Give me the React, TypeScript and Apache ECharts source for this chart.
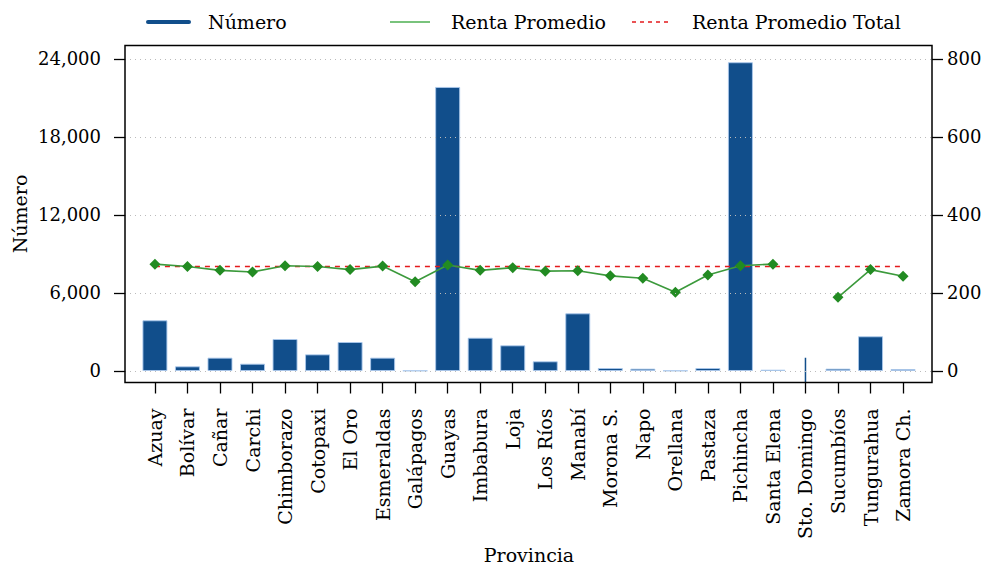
import React, { useEffect, useRef } from "react";
import * as echarts from "echarts";

const provincias = [
  "Azuay", "Bolívar", "Cañar", "Carchi", "Chimborazo", "Cotopaxi", "El Oro", "Esmeraldas",
  "Galápagos", "Guayas", "Imbabura", "Loja", "Los Ríos", "Manabí", "Morona S.", "Napo",
  "Orellana", "Pastaza", "Pichincha", "Santa Elena", "Sto. Domingo", "Sucumbíos", "Tungurahua", "Zamora Ch.",
];
const numero = [
  3900, 360, 1025, 560, 2460, 1280, 2230, 1025,
  30, 21850, 2560, 1975, 745, 4435, 230, 180,
  30, 230, 23750, 100, null, 180, 2670, 150,
];
const renta = [
  274, 268, 258, 254, 270, 268, 260, 269,
  229, 272, 258, 265, 256, 257, 244, 238,
  202, 246, 270, 274, null, 189, 260, 243,
];
const rentaTotal = 268;
const stoDomingoIndex = 20;
const stoDomingoRange = [1020, -2000];
const leftTicks = [0, 6000, 12000, 18000, 24000];
const rightTicks = [0, 200, 400, 600, 800];

const FONT = "DejaVu Serif";
const BLUE = "#114e8b";

export default function App() {
  const ref = useRef<HTMLDivElement>(null);
  useEffect(() => {
    document.body.style.margin = "0";
    const chart = echarts.init(ref.current!, null, { renderer: "svg" });
    const idx = provincias.map((_, i) => i);
    chart.setOption({
      animation: false,
      backgroundColor: "#ffffff",
      textStyle: { fontFamily: FONT },
      grid: { left: 125, right: 65, top: 45.5, bottom: 183.5, containLabel: false },
      xAxis: {
        type: "value",
        min: -0.92,
        max: 23.89,
        axisLine: { show: false, onZero: false },
        splitLine: { show: false },
        axisTick: { show: true, customValues: idx, length: 11, lineStyle: { color: "#000", width: 1.3 } },
        axisLabel: {
          customValues: idx,
          rotate: 90,
          margin: 26,
          fontFamily: FONT,
          fontSize: 19,
          color: "#000",
          formatter: (v: number) => provincias[Math.round(v)],
        },
      },
      yAxis: [
        {
          type: "value",
          position: "left",
          min: -885,
          max: 25038,
          axisLine: { show: false, onZero: false },
          splitLine: { show: false },
          axisTick: { show: true, customValues: leftTicks, length: 11, lineStyle: { color: "#000", width: 1.3 } },
          axisLabel: {
            customValues: leftTicks,
            margin: 24,
            fontFamily: FONT,
            fontSize: 18,
            color: "#000",
            formatter: (v: number) => v.toLocaleString("en-US"),
          },
        },
        {
          type: "value",
          position: "right",
          min: -29.5,
          max: 834.6,
          axisLine: { show: false, onZero: false },
          splitLine: { show: false },
          axisTick: { show: true, customValues: rightTicks, length: 11, lineStyle: { color: "#000", width: 1.3 } },
          axisLabel: {
            customValues: rightTicks,
            margin: 15,
            fontFamily: FONT,
            fontSize: 18,
            color: "#000",
          },
        },
      ],
      series: [
        {
          type: "line",
          yAxisIndex: 0,
          data: [],
          z: 0,
          silent: true,
          markLine: {
            silent: true,
            symbol: ["none", "none"],
            label: { show: false },
            lineStyle: { color: "#bbbbbb", width: 1, type: [1, 4] },
            data: leftTicks.map((t) => ({ yAxis: t })),
          },
        },
        {
          type: "bar",
          yAxisIndex: 0,
          barWidth: 25,
          z: 2,
          data: numero.map((v, i) => [i, v]),
          itemStyle: { color: BLUE, borderColor: "rgba(170,200,235,0.9)", borderWidth: 1 },
        },
        {
          type: "custom",
          yAxisIndex: 0,
          z: 2,
          clip: true,
          data: [[stoDomingoIndex, stoDomingoRange[0], stoDomingoRange[1]]],
          renderItem: (params: any, api: any) => {
            const a = api.coord([api.value(0), api.value(1)]);
            const b = api.coord([api.value(0), api.value(2)]);
            return {
              type: "line",
              shape: { x1: a[0], y1: a[1], x2: b[0], y2: b[1] },
              style: { stroke: BLUE, lineWidth: 1.5 },
            };
          },
        },
        {
          type: "line",
          yAxisIndex: 1,
          z: 3,
          data: [[0, rentaTotal], [provincias.length - 1, rentaTotal]],
          symbol: "none",
          lineStyle: { color: "#e41a1c", width: 1.5, type: [5, 5] },
        },
        {
          type: "line",
          yAxisIndex: 1,
          z: 4,
          connectNulls: false,
          data: renta.map((v, i) => [i, v]),
          symbol: "diamond",
          symbolSize: 11,
          itemStyle: { color: "#228b22" },
          lineStyle: { color: "#3c9a3c", width: 1.6 },
        },
      ],
      graphic: [
        {
          type: "rect",
          z: 100,
          shape: { x: 125, y: 45.5, width: 807, height: 337 },
          style: { fill: "none", stroke: "#000", lineWidth: 1.5 },
        },
        { type: "line", shape: { x1: 148, y1: 22, x2: 189, y2: 22 }, style: { stroke: BLUE, lineWidth: 4, lineCap: "round" } },
        { type: "text", x: 208, y: 22, style: { text: "Número", font: `19px "${FONT}"`, fill: "#000", verticalAlign: "middle" } },
        { type: "line", shape: { x1: 390, y1: 22, x2: 430, y2: 22 }, style: { stroke: "#4caf50", lineWidth: 1.5 } },
        { type: "text", x: 451, y: 22, style: { text: "Renta Promedio", font: `19px "${FONT}"`, fill: "#000", verticalAlign: "middle" } },
        { type: "line", shape: { x1: 632, y1: 22, x2: 672, y2: 22 }, style: { stroke: "#e41a1c", lineWidth: 1.5, lineDash: [4, 4] } },
        { type: "text", x: 692, y: 22, style: { text: "Renta Promedio Total", font: `19px "${FONT}"`, fill: "#000", verticalAlign: "middle" } },
        {
          type: "text",
          x: 20,
          y: 214,
          rotation: Math.PI / 2,
          style: { text: "Número", font: `19px "${FONT}"`, fill: "#000", align: "center", verticalAlign: "middle" },
        },
        {
          type: "text",
          x: 529,
          y: 555,
          style: { text: "Provincia", font: `19px "${FONT}"`, fill: "#000", align: "center", verticalAlign: "middle" },
        },
      ],
    });
    return () => chart.dispose();
  }, []);
  return <div ref={ref} style={{ width: 997, height: 566 }} />;
}
